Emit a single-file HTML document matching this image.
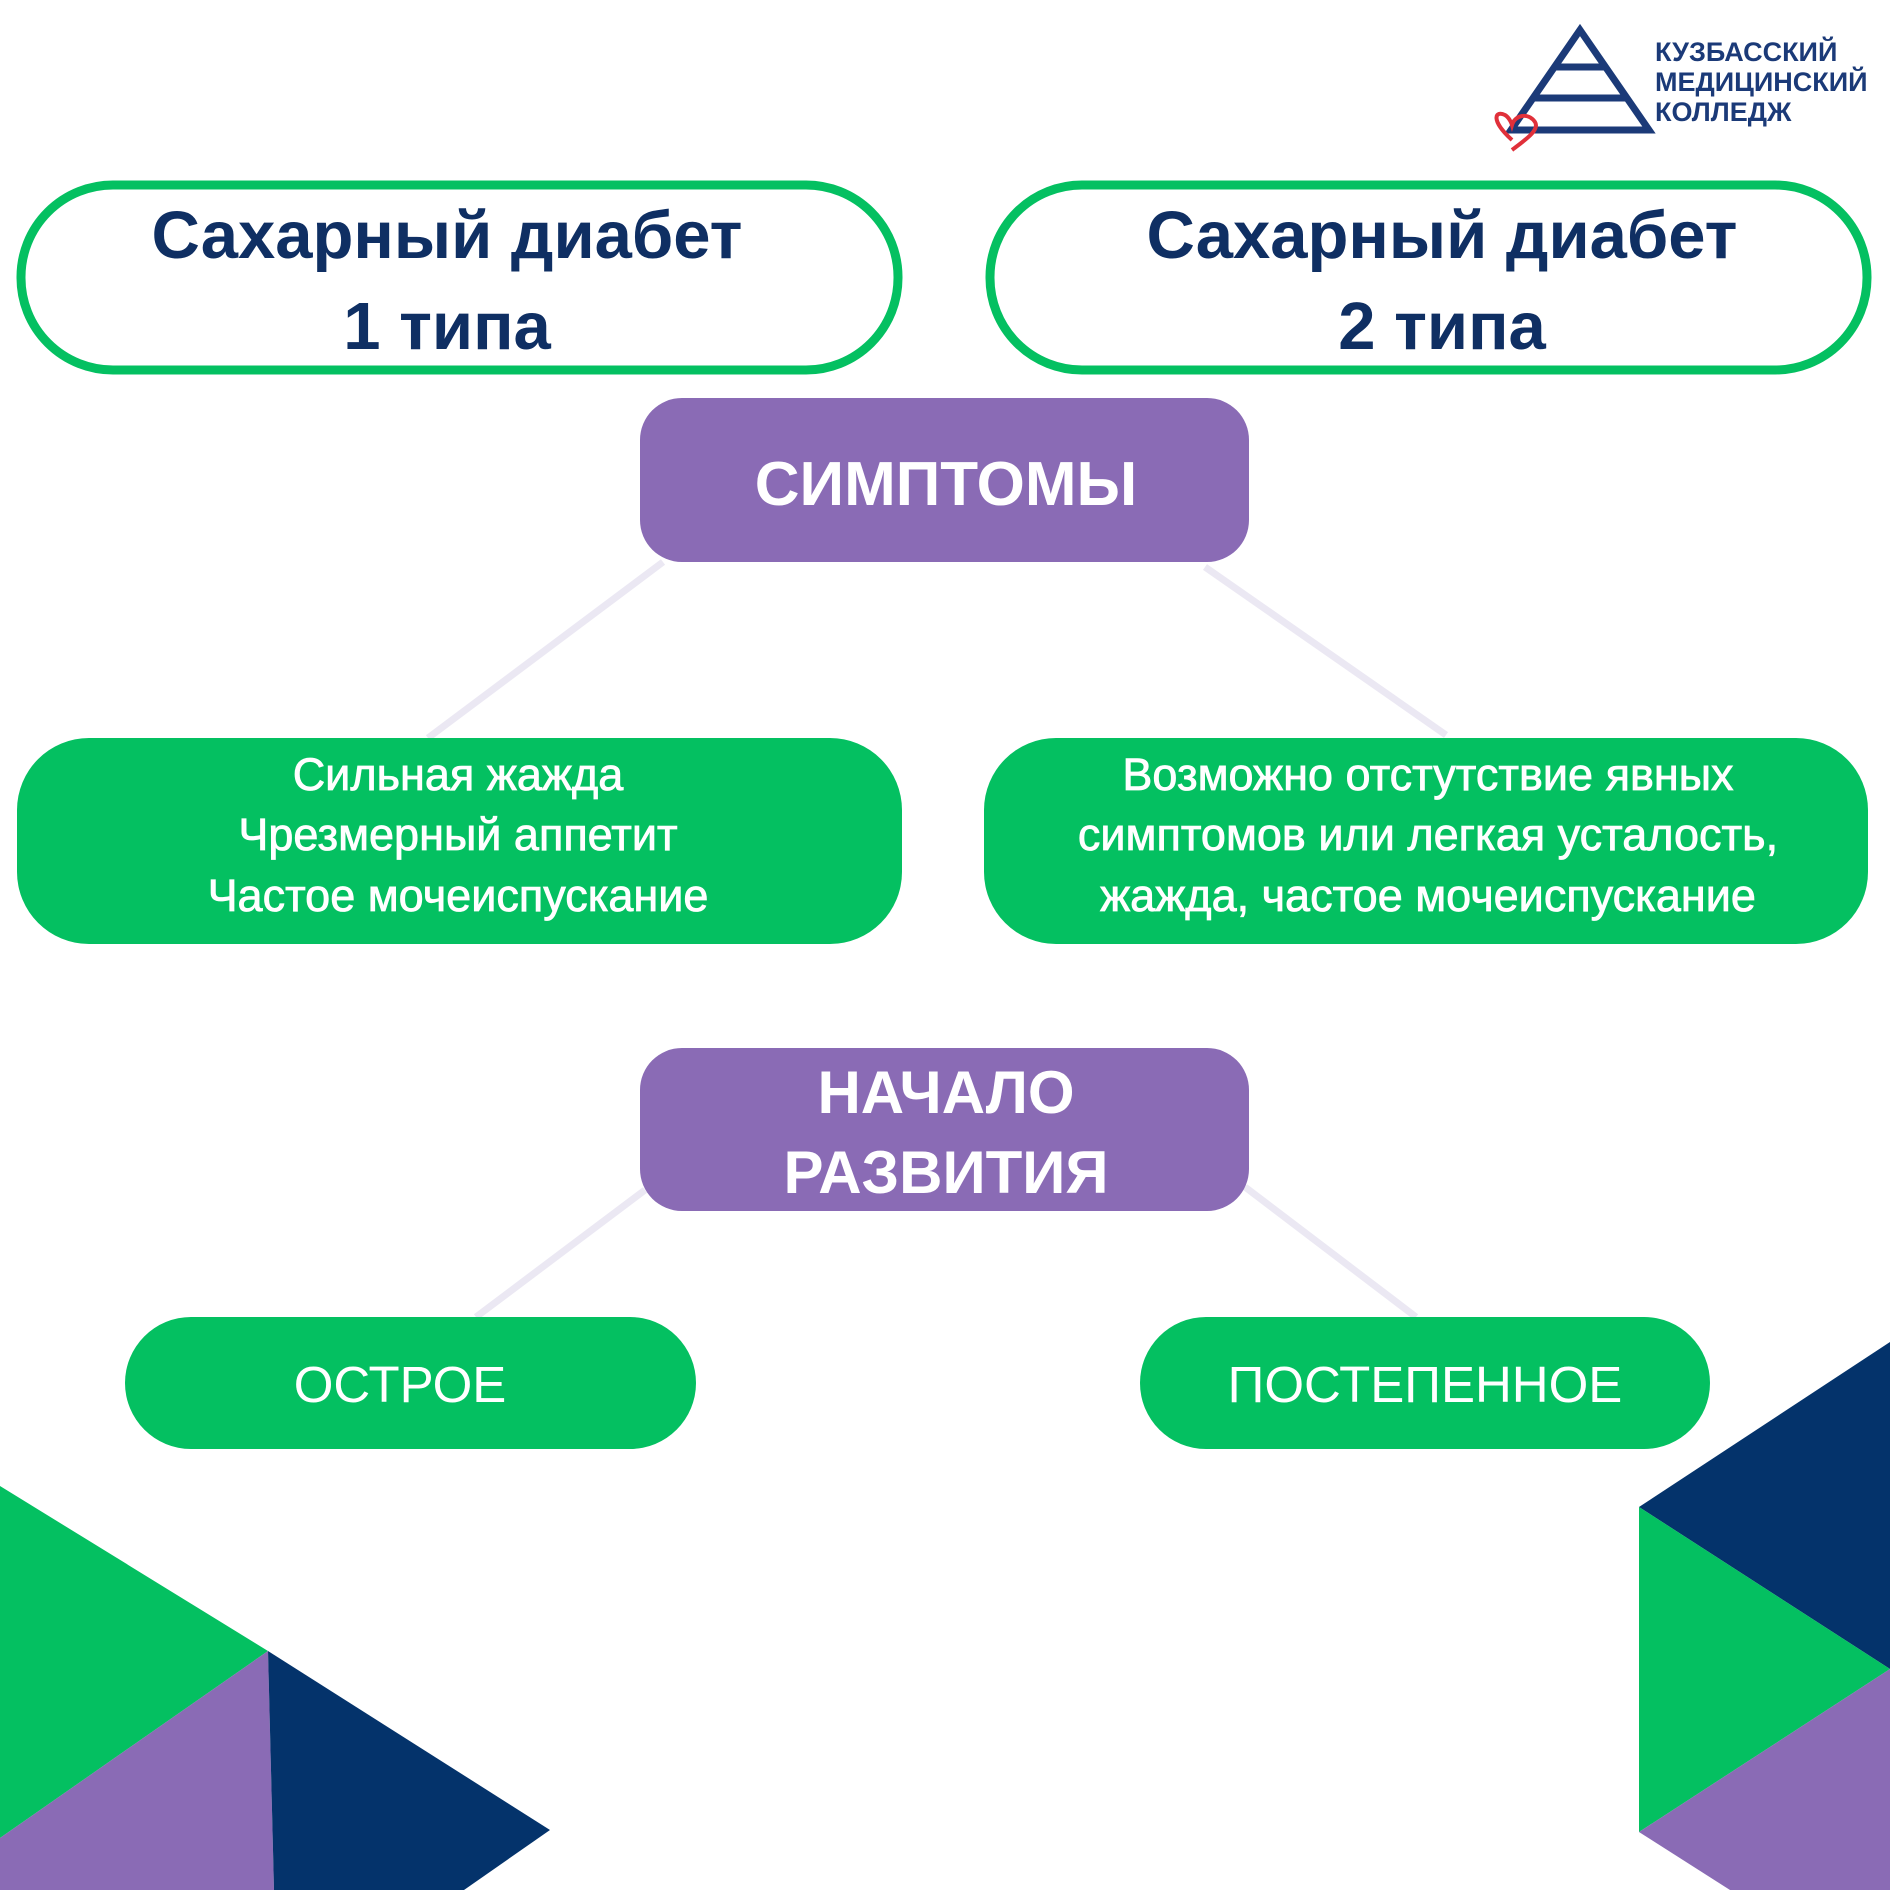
<!DOCTYPE html>
<html><head><meta charset="utf-8"><style>
html,body{margin:0;padding:0;background:#fff;}
body{width:1890px;height:1890px;overflow:hidden;}
text{font-family:"Liberation Sans","DejaVu Sans",sans-serif;}
</style></head><body>
<svg width="1890" height="1890" viewBox="0 0 1890 1890" xmlns="http://www.w3.org/2000/svg">
<rect width="1890" height="1890" fill="#fff"/>
<g stroke="#ebe8f3" stroke-width="7" fill="none">
<line x1="663" y1="562" x2="428" y2="738"/>
<line x1="1205" y1="567" x2="1446" y2="735"/>
<line x1="645" y1="1190" x2="476" y2="1317"/>
<line x1="1245" y1="1187" x2="1416" y2="1317"/>
</g>
<g fill="none" stroke="#1b3a78" stroke-width="7">
<polygon points="1580,30 1511,130 1649,130"/>
<line x1="1555" y1="67" x2="1605" y2="67"/>
<line x1="1534" y1="98" x2="1626" y2="98"/>
</g>
<path d="M1512,140 C1490,120 1495,110 1505,115 C1510,118 1512,125 1512,125 C1515,115 1528,112 1535,122 C1540,130 1525,140 1512,150" fill="none" stroke="#e0303a" stroke-width="4"/>
<text x="1655" y="61" font-size="27" font-weight="bold" fill="#1b3a78">КУЗБАССКИЙ</text>
<text x="1655" y="91" font-size="27" font-weight="bold" fill="#1b3a78">МЕДИЦИНСКИЙ</text>
<text x="1655" y="121" font-size="27" font-weight="bold" fill="#1b3a78">КОЛЛЕДЖ</text>
<rect x="21" y="185" width="877" height="185" rx="92" fill="#fff" stroke="#04c061" stroke-width="9"/>
<rect x="990" y="185" width="877" height="185" rx="92" fill="#fff" stroke="#04c061" stroke-width="9"/>
<g font-size="67" font-weight="bold" fill="#0f2f63" text-anchor="middle">
<text x="447" y="258">Сахарный диабет</text>
<text x="447" y="349">1 типа</text>
<text x="1442" y="258">Сахарный диабет</text>
<text x="1442" y="349">2 типа</text>
</g>
<rect x="640" y="398" width="609" height="164" rx="42" fill="#8a6bb5"/>
<text x="946" y="505" font-size="62" font-weight="bold" fill="#fff" text-anchor="middle">СИМПТОМЫ</text>
<rect x="640" y="1048" width="609" height="163" rx="42" fill="#8a6bb5"/>
<text x="946" y="1113" font-size="60" font-weight="bold" fill="#fff" text-anchor="middle">НАЧАЛО</text>
<text x="946" y="1193" font-size="60" font-weight="bold" fill="#fff" text-anchor="middle">РАЗВИТИЯ</text>
<rect x="17" y="738" width="885" height="206" rx="72" fill="#04c061"/>
<rect x="984" y="738" width="884" height="206" rx="72" fill="#04c061"/>
<g font-size="45" fill="#fff" text-anchor="middle" stroke="#fff" stroke-width="0.8">
<text x="458" y="790">Сильная жажда</text>
<text x="458" y="850">Чрезмерный аппетит</text>
<text x="458" y="911">Частое мочеиспускание</text>
<text x="1428" y="790">Возможно отстутствие явных</text>
<text x="1428" y="850">симптомов или легкая усталость,</text>
<text x="1428" y="911">жажда, частое мочеиспускание</text>
</g>
<rect x="125" y="1317" width="571" height="132" rx="66" fill="#04c061"/>
<rect x="1140" y="1317" width="570" height="132" rx="66" fill="#04c061"/>
<text x="400" y="1402" font-size="51" fill="#fff" text-anchor="middle">ОСТРОЕ</text>
<text x="1425" y="1402" font-size="51" fill="#fff" text-anchor="middle">ПОСТЕПЕННОЕ</text>
<polygon points="0,1486 268,1651 0,1838" fill="#04c061"/>
<polygon points="0,1838 268,1651 274,1890 0,1890" fill="#8a6bb5"/>
<polygon points="268,1651 550,1830 464,1890 274,1890" fill="#04336b"/>
<polygon points="1890,1342 1639,1507 1890,1669" fill="#04336b"/>
<polygon points="1639,1507 1890,1669 1639,1832" fill="#04c061"/>
<polygon points="1639,1832 1890,1669 1890,1890 1730,1890" fill="#8a6bb5"/>
</svg>
</body></html>
